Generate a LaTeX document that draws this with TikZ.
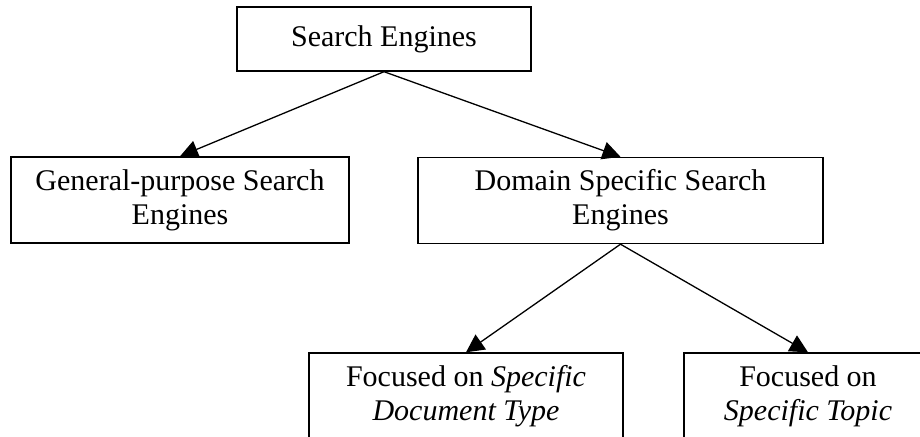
\documentclass[tikz,border=0pt]{standalone}
\usepackage{fontspec}
\setmainfont{Liberation Serif}
\usetikzlibrary{arrows.meta}
\begin{document}
\begin{tikzpicture}[x=1pt,y=-1pt,
    box/.style={draw,line width=1.4pt,inner sep=0pt,align=center,minimum height=86pt,
      font=\fontsize{30}{34}\selectfont},
    arr/.style={-{Triangle[length=18pt,width=18pt]},line width=1.3pt}]
      \useasboundingbox(0,0)rectangle(920,436);
      \clip(0,0)rectangle(920,436);
      \node[box,minimum width=294pt,minimum height=64pt](SE) at (384,39){Search Engines};
      \node[box,minimum width=338pt](GP) at (180,200){General-purpose Search\\Engines};
      \node[box,minimum width=405pt](DS) at (620.5,200.5){Domain Specific Search\\Engines};
      \node[box,minimum width=314pt](DT) at (466,396){Focused on \textit{Specific}\\\textit{Document Type}};
      \node[box,minimum width=248pt](ST) at (808,396){Focused on\\\textit{Specific Topic}};
      
      \draw[arr](SE.south)--(GP.north);
      \draw[arr](SE.south)--(DS.north);
      \draw[arr](DS.south)--(DT.north);
      \draw[arr](DS.south)--(ST.north);
    \end{tikzpicture}
\end{document}
